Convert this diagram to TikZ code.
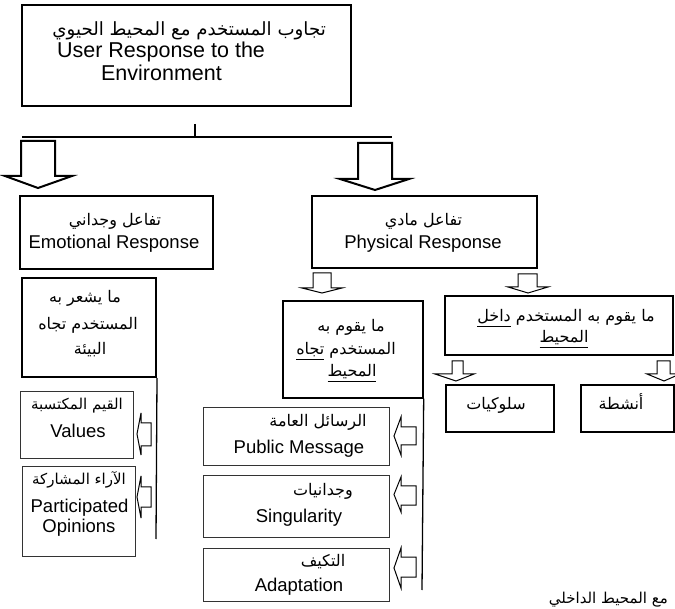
\documentclass[tikz,border=0pt]{standalone}
\usepackage{fontspec}
\setmainfont{Liberation Sans}
\newfontfamily\arabicfont[Script=Arabic]{DejaVu Sans}
\TeXXeTstate=1
\usetikzlibrary{fit}
% right-to-left Arabic run
\newcommand\artext[1]{{\arabicfont\beginR #1\endR}}
% downward block arrow: xl xr ytop yback headl headr tipx tipy
\newcommand\blockdown[9][]{%
  \draw[blockarrow,#1] (#2,#4) -- (#3,#4) -- (#3,#5) -- (#7,#5) -- (#8,#9)
    -- (#6,#5) -- (#2,#5) -- cycle;}
% left-pointing block arrow: shaft-right back ytop ybot headtop headbot tipx
\newcommand\blockleft[8][]{%
  \draw[blockarrow,#1] (#2,#4) -- (#3,#4) -- (#3,#6) -- (#8,{(#6+#7)/2})
    -- (#3,#7) -- (#3,#5) -- (#2,#5) -- cycle;}
\begin{document}
\begin{tikzpicture}[x=1pt,y=-1pt,
  heavybox/.style={draw=black, line width=2pt, inner sep=0pt},
  midbox/.style={draw=black, line width=1.4pt, inner sep=0pt},
  lightbox/.style={draw=black!80, line width=1pt, inner sep=0pt},
  en/.style={inner sep=0pt, font=\fontsize{18.5}{22}\selectfont,
    text height=13pt, text depth=4pt},
  entop/.style={inner sep=0pt, font=\fontsize{21.5}{25}\selectfont,
    text height=15pt, text depth=5pt},
  ar/.style={inner sep=0pt, font=\fontsize{16}{20}\selectfont\arabicfont,
    text height=12pt, text depth=4pt},
  arsmall/.style={ar, font=\fontsize{15}{20}\selectfont\arabicfont},
  artop/.style={inner sep=0pt, font=\fontsize{18.2}{22}\selectfont\arabicfont,
    text height=13pt, text depth=5pt},
  blockarrow/.style={draw=black, line width=1pt, fill=white, line join=miter},
  bigarrow/.style={line width=2pt},
  spine/.style={draw=black, line width=1.3pt},
]
\useasboundingbox (0,0) rectangle (675,609);
\clip (0,0) rectangle (675,609);

% ---- root ----
\node[heavybox, fit={(22,5) (351,106)}] (root) {};
\node[artop, anchor=east] (root-ar) at (326,32) {\artext{تجاوب المستخدم مع المحيط الحيوي}};
\node[entop] (root-en1) at (161,53) {User Response to the};
\node[entop] (root-en2) at (161.5,76) {Environment};

\coordinate (tick-top) at (195,124);
\coordinate (tick-bot) at (195,137);
\coordinate (bar-l) at (22,137);
\coordinate (bar-r) at (392,137);
\draw[spine] (tick-top) -- (tick-bot);
\draw[spine] (bar-l) -- (bar-r);

\blockdown[bigarrow]{21}{55}{141}{176}{5}{72}{38}{188}
\blockdown[bigarrow]{358}{392}{143}{179}{340}{409}{375}{190}

% ---- emotional branch ----
\node[heavybox, fit={(20,196) (213,269)}] (emo) {};
\node[ar] (emo-ar) at (115,222) {\artext{تفاعل وجداني}};
\node[en] (emo-en) at (114,244) {Emotional Response};

\node[heavybox, fit={(22,278) (156,377)}] (feel) {};
\node[ar] (feel-1) at (85,299) {\artext{ما يشعر به}};
\node[ar] (feel-2) at (88,326) {\artext{المستخدم تجاه}};
\node[ar] (feel-3) at (90,351) {\artext{البيئة}};
\coordinate (feel-end) at (156,539);
\draw[spine] (feel.south east) -- (feel-end);

\node[lightbox, fit={(20,392) (133,459)}] (values) {};
\node[arsmall] (values-ar) at (77,406) {\artext{القيم المكتسبة}};
\node[en] (values-en) at (78,433) {Values};
\blockleft{151}{141}{423}{446}{413}{455}{137}

\node[lightbox, fit={(22,467) (135,556)}] (opin) {};
\node[arsmall] (opin-ar) at (79,481) {\artext{الآراء المشاركة}};
\node[en] (opin-en1) at (79.5,508) {Participated};
\node[en] (opin-en2) at (79,528) {Opinions};
\blockleft{151}{141}{487}{507}{476}{518}{137}

% ---- physical branch ----
\node[heavybox, fit={(312,196) (537,268)}] (phys) {};
\node[ar] (phys-ar) at (423.5,222) {\artext{تفاعل مادي}};
\node[en] (phys-en) at (423,244) {Physical Response};

\blockdown{313}{331}{273}{288}{302}{342}{322}{293}
\blockdown{518}{537}{274}{287}{508}{548}{528}{293}

\node[midbox, fit={(283,301) (423,398)}] (toward) {};
\node[ar] (toward-1) at (351,328) {\artext{ما يقوم به}};
\node[ar] (toward-2) at (346,351) {\artext{المستخدم \underline{تجاه}}};
\node[ar] (toward-3) at (352,373) {\artext{\underline{المحيط}}};
\coordinate (toward-end) at (422,590);
\draw[spine] (toward.south east) -- (toward-end);

\node[midbox, fit={(445,296) (673,355)}] (inside) {};
\node[ar] (inside-1) at (566,318) {\artext{ما يقوم به المستخدم \underline{داخل}}};
\node[ar] (inside-2) at (564,339) {\artext{\underline{المحيط}}};

\blockdown{452}{463}{361}{374}{435}{474}{456}{381}
\blockdown{657}{670}{361}{374}{647}{680}{664}{381}

\node[midbox, fit={(446,385) (554,432)}] (behav) {};
\node[ar] (behav-ar) at (496,406) {\artext{سلوكيات}};
\node[midbox, fit={(581,385) (674,432)}] (activ) {};
\node[ar] (activ-ar) at (621,406) {\artext{أنشطة}};

\node[lightbox, fit={(203,408) (389,466)}] (msg) {};
\node[ar] (msg-ar) at (318,423) {\artext{الرسائل العامة}};
\node[en] (msg-en) at (299,449) {Public Message};
\blockleft{416}{401}{427}{445}{417}{455}{394}

\node[lightbox, fit={(203,476) (389,537)}] (sing) {};
\node[ar] (sing-ar) at (323,491) {\artext{وجدانيات}};
\node[en] (sing-en) at (299,518) {Singularity};
\blockleft{416}{401}{486}{505}{477}{512}{394}

\node[lightbox, fit={(203,548) (389,601)}] (adapt) {};
\node[ar] (adapt-ar) at (323,562) {\artext{التكيف}};
\node[en] (adapt-en) at (299,587) {Adaptation};
\blockleft{416}{401}{557}{577}{548}{588}{394}

% caption along the lower edge
\node[arsmall, anchor=base east] (caption) at (668,603) {\artext{مع المحيط الداخلي}};
\end{tikzpicture}
\end{document}
